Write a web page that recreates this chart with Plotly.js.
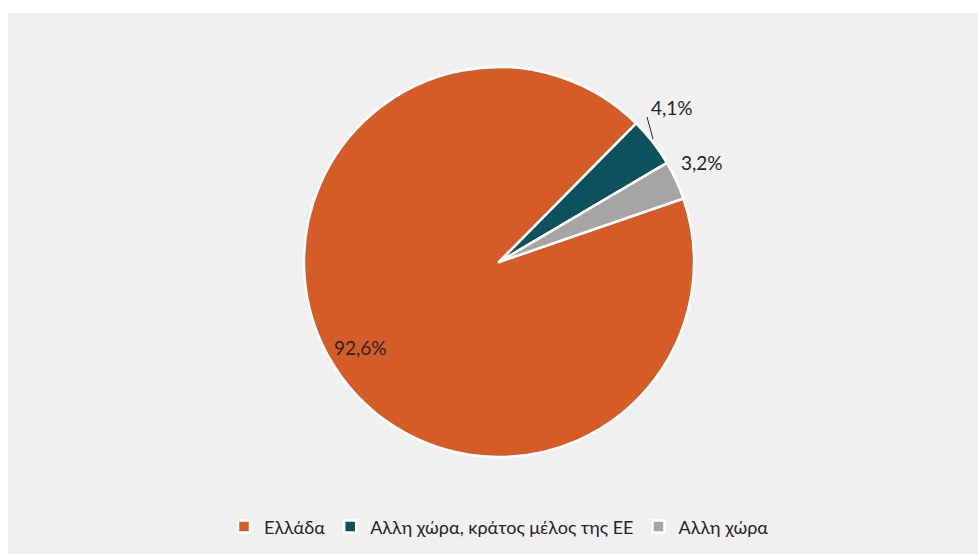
<!DOCTYPE html>
<html><head><meta charset="utf-8">
<script src="https://cdn.plot.ly/plotly-3.0.1.min.js"></script>
<style>
html,body{margin:0;padding:0;background:#ffffff;width:978px;height:554px;overflow:hidden;}
#chart{position:absolute;left:8px;top:13px;width:970px;height:541px;}
</style></head>
<body><div id="chart"></div>
<script>
const labels = ["Ελλάδα", "Αλλη χώρα, κράτος μέλος της ΕΕ", "Αλλη χώρα"];
const values = [92.6, 4.1, 3.2];
const colors = ["#D55B27", "#0B525D", "#A5A5A5"];
// label anchor positions in paper fraction (text placement only)
const labelX = [0.355, 0.6806, 0.7119];
const labelY = [0.282, 0.897, 0.756];

const fmt = v => v.toFixed(1).replace(".", ",") + "%";
const FONT = "Lato, 'Open Sans', sans-serif";

const trace = {
  type: "pie",
  labels: labels,
  values: values,
  sort: false,
  direction: "clockwise",
  rotation: 71,
  marker: {colors: colors, line: {color: "#ffffff", width: 2.5}},
  textinfo: "none",
  hoverinfo: "none",
  automargin: false,
  domain: {x: [0, 1], y: [0, 1]}
};

const annotations = values.map((v, i) => ({
  xref: "paper", yref: "paper", x: labelX[i], y: labelY[i],
  xanchor: "center", yanchor: "middle", showarrow: false,
  text: fmt(v),
  font: {family: FONT, size: 19, color: "#262626"}
}));

const layout = {
  width: 970, height: 541,
  paper_bgcolor: "#F0F0F0",
  plot_bgcolor: "#F0F0F0",
  margin: {l: 12, r: 0, t: 54, b: 97},
  showlegend: true,
  annotations: annotations,
  shapes: [{
    type: "line", xref: "paper", yref: "paper",
    x0: 0.6545, y0: 0.8718, x1: 0.6608, y1: 0.8154,
    line: {color: "#262626", width: 1}
  }],
  legend: {
    orientation: "h", x: 0.5, xanchor: "center", y: -0.179, yanchor: "middle",
    font: {family: FONT, size: 18, color: "#262626"},
    itemwidth: 30, traceorder: "normal"
  }
};

Plotly.newPlot("chart", [trace], layout, {displayModeBar: false, staticPlot: true});
</script></body></html>
